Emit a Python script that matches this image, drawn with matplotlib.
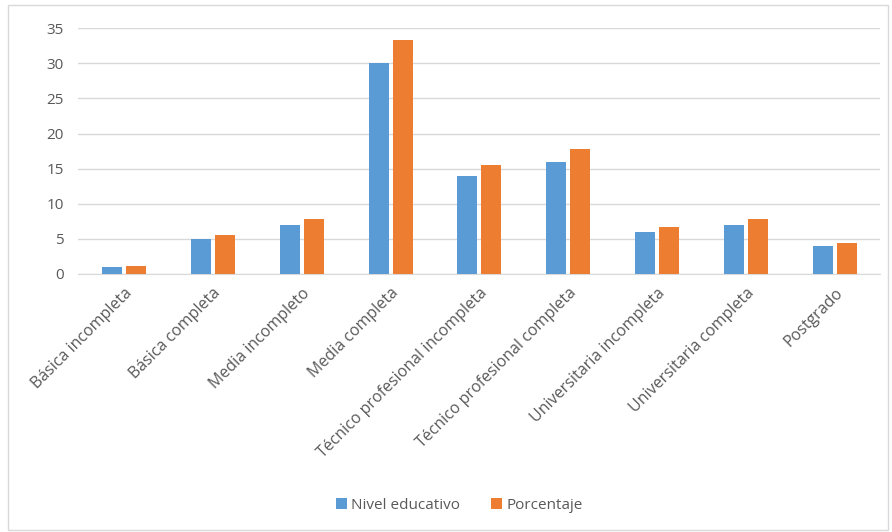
import matplotlib.pyplot as plt
import numpy as np
from matplotlib.patches import Rectangle

categorias = ['Básica incompleta', 'Básica completa', 'Media incompleto', 'Media completa',
              'Técnico profesional incompleta', 'Técnico profesional completa',
              'Universitaria incompleta', 'Universitaria completa', 'Postgrado']
nivel = [1, 5, 7, 30, 14, 16, 6, 7, 4]
porcentaje = [1.11, 5.56, 7.78, 33.33, 15.56, 17.78, 6.67, 7.78, 4.44]

plt.rcParams['font.family'] = ['Open Sans', 'DejaVu Sans']
txt = '#595959'

fig = plt.figure(figsize=(8.92, 5.32), dpi=100)
ax = fig.add_axes([0.087, 0.485, 0.899, 0.462])

x = np.arange(len(categorias))
w = 0.225
ax.bar(x - 0.135, nivel, w, color='#5B9BD5', label='Nivel educativo', zorder=3)
ax.bar(x + 0.135, porcentaje, w, color='#ED7D31', label='Porcentaje', zorder=3)

ax.set_xlim(-0.52, 8.5)
ax.set_ylim(0, 35)
ax.set_yticks(range(0, 36, 5))
ax.yaxis.grid(True, color='#D9D9D9', linewidth=1, zorder=0)
ax.set_xticks(x)
ax.set_xticklabels(categorias, rotation=45, ha='right', rotation_mode='anchor', color=txt, fontsize=11.5)
ax.tick_params(axis='y', colors=txt, labelsize=11, length=0, pad=10)
ax.tick_params(axis='x', length=0, pad=8)
for s in ['top', 'right', 'left']:
    ax.spines[s].set_visible(False)
ax.spines['bottom'].set_color('#D9D9D9')

leg = fig.legend(loc='center', bbox_to_anchor=(0.515, 0.05), ncol=2, frameon=False,
                 fontsize=11, handlelength=0.7, handleheight=0.7, columnspacing=2.0,
                 handletextpad=0.3)
for t in leg.get_texts():
    t.set_color(txt)

fig.patches.append(Rectangle((0.009, 0.004), 0.986, 0.987, transform=fig.transFigure,
                             fill=False, edgecolor='#D9D9D9', linewidth=1))

fig.savefig('out.png')
